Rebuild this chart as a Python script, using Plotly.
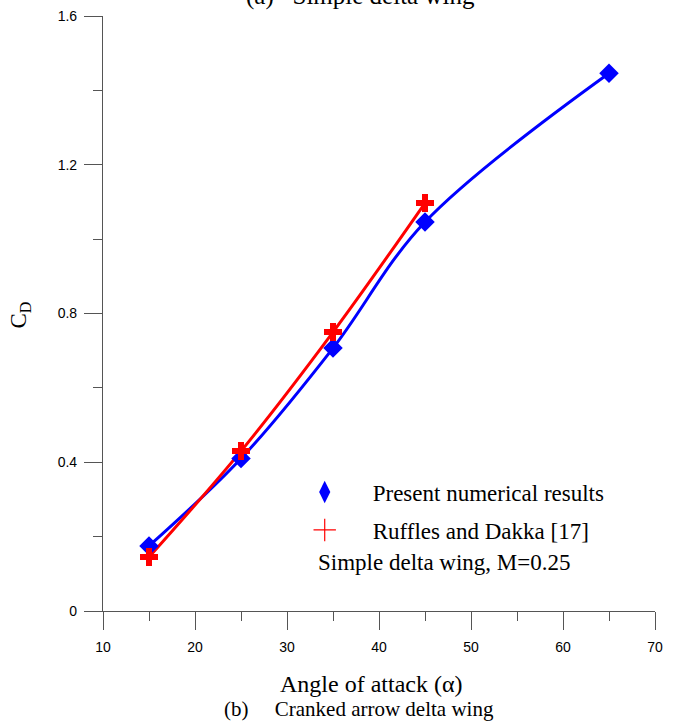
import plotly.graph_objects as go

# Data
alpha_present = [15, 25, 35, 45, 65]
cd_present = [0.175, 0.41, 0.707, 1.046, 1.446]
alpha_ruffles = [15, 25, 35, 45]
cd_ruffles = [0.145, 0.43, 0.75, 1.097]

x_ticks = [10, 20, 30, 40, 50, 60, 70]
y_ticks = [0, 0.4, 0.8, 1.2, 1.6]
y_ticktext = ["0", "0.4", "0.8", "1.2", "1.6"]

BLUE = "#0000FF"
RED = "#FF0000"
AXC = "#555555"
SERIF = "Liberation Serif, Times New Roman, serif"
SANS = "Liberation Sans, Arial, sans-serif"

fig = go.Figure()

# smooth curves
fig.add_trace(go.Scatter(x=alpha_present, y=cd_present, mode="lines",
                         line=dict(color=BLUE, width=3, shape="spline", smoothing=1),
                         showlegend=False, hoverinfo="skip"))
fig.add_trace(go.Scatter(x=alpha_ruffles, y=cd_ruffles, mode="lines",
                         line=dict(color=RED, width=3, shape="spline", smoothing=1),
                         showlegend=False, hoverinfo="skip"))
# markers
fig.add_trace(go.Scatter(x=alpha_present, y=cd_present, mode="markers",
                         marker=dict(symbol="diamond", size=15, color=BLUE),
                         showlegend=False))
fig.add_trace(go.Scatter(x=alpha_ruffles, y=cd_ruffles, mode="markers",
                         marker=dict(symbol="cross", size=15, color=RED),
                         showlegend=False))
# legend-only entries
fig.add_trace(go.Scatter(x=[None], y=[None], mode="markers", name="Present numerical results",
                         legendgroup="a",
                         marker=dict(symbol="diamond-tall", size=18, color=BLUE)))
fig.add_trace(go.Scatter(x=[None], y=[None], mode="markers", name="Ruffles and Dakka [17]",
                         legendgroup="b",
                         marker=dict(symbol="cross-thin-open", size=16, color=RED,
                                     line=dict(color=RED, width=1.2))))

fig.update_xaxes(range=[10, 70], tickvals=x_ticks, ticks="outside", ticklen=18,
                 tickwidth=1, tickcolor=AXC, showline=True, linecolor=AXC, linewidth=1.2,
                 showgrid=False, zeroline=False, ticklabelstandoff=5, automargin=False,
                 minor=dict(ticks="outside", ticklen=9, dtick=5, tick0=10, tickcolor=AXC),
                 tickfont=dict(family=SANS, size=14, color="black"))
fig.update_yaxes(range=[0, 1.6], tickvals=y_ticks, ticktext=y_ticktext,
                 ticks="outside", ticklen=18, tickwidth=1, tickcolor=AXC,
                 showline=True, linecolor=AXC, linewidth=1.2, showgrid=False, zeroline=False,
                 ticklabelstandoff=4, automargin=False,
                 minor=dict(ticks="outside", ticklen=9, dtick=0.2, tick0=0, tickcolor=AXC),
                 tickfont=dict(family=SANS, size=14, color="black"))

fig.update_layout(
    width=678, height=723,
    margin=dict(l=103, r=23, t=16, b=112),
    paper_bgcolor="white", plot_bgcolor="white",
    legend=dict(x=0.3147, y=0.236, xanchor="left", yanchor="top",
                bgcolor="rgba(0,0,0,0)", itemwidth=86,
                traceorder="grouped", tracegroupgap=5,
                font=dict(family=SERIF, size=23, color="black")),
    annotations=[
        dict(text="Simple delta wing, M=0.25", xref="paper", yref="paper",
             x=0.385, y=0.082, xanchor="left", yanchor="middle", showarrow=False,
             font=dict(family=SERIF, size=23, color="black")),
        dict(text="(a)&nbsp;&nbsp;&nbsp;Simple delta wing", xref="paper", yref="paper",
             x=0.467, y=1.006, xanchor="center", yanchor="bottom", showarrow=False,
             font=dict(family=SERIF, size=25, color="black")),
        dict(text="Angle of attack (α)", xref="paper", yref="paper",
             x=0.487, y=-0.1227, xanchor="center", yanchor="middle", showarrow=False,
             font=dict(family=SERIF, size=24, color="black")),
        dict(text="C<sub>D</sub>", xref="paper", yref="paper", textangle=-90,
             x=-0.150, y=0.497, xanchor="center", yanchor="middle", showarrow=False,
             font=dict(family=SERIF, size=23, color="black")),
        dict(text="(b)&nbsp;&nbsp;&nbsp;&nbsp;&nbsp;Cranked arrow delta wing", xref="paper", yref="paper",
             x=0.464, y=-0.165, xanchor="center", yanchor="middle", showarrow=False,
             font=dict(family=SERIF, size=21, color="black")),
    ],
)

fig.write_html("out.html")
